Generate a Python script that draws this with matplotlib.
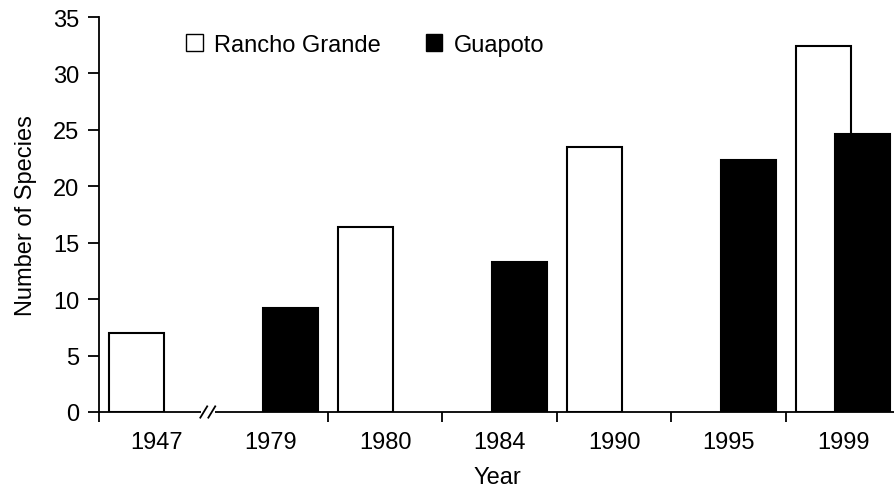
import matplotlib
matplotlib.use("Agg")
import matplotlib.pyplot as plt
from matplotlib.patches import Patch
import numpy as np

plt.rcParams['font.family'] = ['Liberation Sans', 'DejaVu Sans']

years = ["1947", "1979", "1980", "1984", "1990", "1995", "1999"]
rancho_grande = [7.0, None, 16.4, None, 23.5, None, 32.4]
guapoto = [None, 9.2, None, 13.3, None, 22.3, 24.6]
y_ticks = [0, 5, 10, 15, 20, 25, 30, 35]

FS = 17
W, H = 895, 489
fig = plt.figure(figsize=(W / 100, H / 100), dpi=100)
left_px, right_px, top_px, bottom_px = 99, 895, 18, 413
ax = fig.add_axes([left_px / W, (H - bottom_px) / H,
                   (right_px - left_px) / W, (bottom_px - top_px) / H])

x = np.arange(len(years))
bw = 0.48
off = 0.17
for xi, v in zip(x, rancho_grande):
    if v is not None:
        ax.bar(xi - off, v, width=bw, facecolor='white', edgecolor='black',
               linewidth=1.5, zorder=2)
for xi, v in zip(x, guapoto):
    if v is not None:
        ax.bar(xi + off, v, width=bw, facecolor='black', edgecolor='black',
               linewidth=1.5, zorder=3)

cat_w = 114.5
ax.set_xlim(-0.5, -0.5 + (right_px - left_px) / cat_w)
ax.set_ylim(0, 35)

for s in ['top', 'right']:
    ax.spines[s].set_visible(False)
for s in ['left', 'bottom']:
    ax.spines[s].set_linewidth(1.3)

ax.set_yticks(y_ticks)
ax.tick_params(axis='y', direction='out', length=8, width=1.3, labelsize=FS, pad=6)
ax.set_xticks(x)
ax.set_xticklabels(years)
ax.tick_params(axis='x', which='major', length=0, labelsize=FS, pad=14)
ax.set_xticks([-0.5, 1.5, 2.5, 3.5, 4.5, 5.5], minor=True)
ax.tick_params(axis='x', which='minor', direction='out', length=7, width=1.3)

ax.set_ylabel("Number of Species", fontsize=FS, labelpad=12)
ax.set_xlabel("Year", fontsize=FS, labelpad=9)

# axis break marks
bx = 0.45
ax.plot([bx - 0.06, bx + 0.06], [0, 0], color='white', lw=3, clip_on=False, zorder=5,
        solid_capstyle='butt')
for dx in (-0.035, 0.035):
    ax.plot([bx + dx - 0.03, bx + dx + 0.03], [-0.5, 0.5], color='black', lw=1.3,
            clip_on=False, zorder=6)

handles = [Patch(facecolor='white', edgecolor='black', linewidth=1.0, label='Rancho Grande'),
           Patch(facecolor='black', edgecolor='black', linewidth=1.0, label='Guapoto')]
fig.legend(handles=handles, loc='center left', bbox_to_anchor=(186 / W, 1 - 46 / H),
           ncol=2, frameon=False, fontsize=FS, handlelength=0.7, handleheight=0.7,
           handletextpad=0.5, columnspacing=1.9, borderaxespad=0, borderpad=0)

fig.savefig("out.png", dpi=100)
